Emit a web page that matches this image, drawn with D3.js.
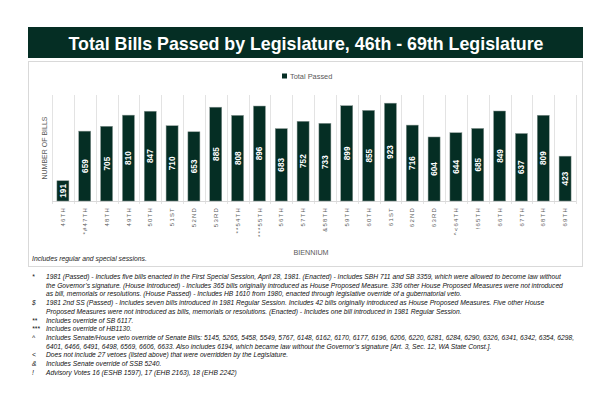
<!DOCTYPE html>
<html>
<head>
<meta charset="utf-8">
<title>Total Bills Passed</title>
<style>
  body { margin: 0; background: #fff; }
  svg { display: block; }
  text { font-family: "Liberation Sans", Arial, sans-serif; }
</style>
</head>
<body>
<div id="chart"></div>
<script src="https://d3js.org/d3.v7.min.js"></script>
<script>

// data
var bienniums = ["46TH", "*#47TH", "48TH", "49TH", "50TH", "51ST", "52ND", "53RD",
                 "**54TH", "***55TH", "56TH", "57TH", "&58TH", "59TH", "60TH", "61ST",
                 "62ND", "63RD", "^<64TH", "!65TH", "66TH", "67TH", "68TH", "69TH"];
var totalPassed = [191, 659, 705, 810, 847, 710, 653, 885, 808, 896, 683, 752,
                   733, 899, 855, 923, 716, 604, 644, 685, 849, 637, 809, 423];

var footSymbols = ["*", "$", "**", "***", "^", "<", "&", "!"];
var footLines = [
    ["1981 (Passed) - Includes five bills enacted in the First Special Session, April 28, 1981. (Enacted) - Includes SBH 711 and SB 3359, which were allowed to become law without",
     "the Governor\u2019s signature. (House Introduced) - Includes 365 bills originally introduced as House Proposed Measure. 336 other House Proposed Measures were not introduced",
     "as bill, memorials or resolutions. (House Passed)  - Includes HB 1610 from 1980, enacted through legislative override of a gubernatorial veto."],
    ["1981 2nd SS (Passed) - Includes seven bills introduced in 1981 Regular Session. Includes 42 bills originally introduced as House Proposed Measures. Five other House",
     "Proposed Measures were not introduced as bills, memorials or resolutions. (Enacted) - Includes one bill introduced in 1981 Regular Session."],
    ["Includes override of SB 6117."],
    ["Includes override of HB1130."],
    ["Includes Senate/House veto override of Senate Bills: 5145, 5265, 5458, 5549, 5767, 6148, 6162, 6170, 6177, 6196, 6206, 6220, 6281, 6284, 6290, 6326, 6341, 6342, 6354, 6298,",
     "6401, 6466, 6491, 6498, 6569, 6606, 6633. Also includes 6194, which became law without the Governor\u2019s signature [Art. 3, Sec. 12, WA State Const.]."],
    ["Does not include 27 vetoes (listed above) that were overridden by the Legislature."],
    ["Includes Senate override of SSB 5240."],
    ["Advisory Votes 16 (ESHB 1597), 17 (EHB 2163), 18 (EHB 2242)"]
];

var W = 612, H = 396;
var green = "#052e24";

var svg = d3.select("#chart").append("svg")
    .attr("width", W)
    .attr("height", H);

// title banner
svg.append("rect")
    .attr("x", 28).attr("y", 27)
    .attr("width", 555).attr("height", 31)
    .attr("fill", green);
svg.append("text")
    .attr("x", 306).attr("y", 49.5)
    .attr("text-anchor", "middle")
    .attr("fill", "#fff")
    .attr("font-weight", "bold")
    .attr("font-size", 17.8)
    .text("Total Bills Passed by Legislature, 46th - 69th Legislature");

// chart frame
svg.append("rect")
    .attr("x", 28.5).attr("y", 61.5)
    .attr("width", 554).attr("height", 205)
    .attr("fill", "none")
    .attr("stroke", "#d9d9d9");

var x = d3.scaleBand()
    .domain(bienniums)
    .range([52, 576])
    .paddingInner(0.45)
    .paddingOuter(0.225);

var y = d3.scaleLinear()
    .domain([0, 1000])
    .range([201, 95]);

// vertical grid at category boundaries
var step = x.step();
var bounds = d3.range(bienniums.length + 1).map(function(i) { return 52 + i * step; });
svg.append("g").selectAll("line")
    .data(bounds)
    .enter().append("line")
    .attr("x1", function(d) { return Math.round(d) + 0.5; })
    .attr("x2", function(d) { return Math.round(d) + 0.5; })
    .attr("y1", y(1000))
    .attr("y2", y(0) + 3)
    .attr("stroke", "#e3e3e3")
    .attr("stroke-width", 1);

// baseline
svg.append("line")
    .attr("x1", 52).attr("x2", 576)
    .attr("y1", y(0) + 0.5).attr("y2", y(0) + 0.5)
    .attr("stroke", "#d9d9d9");

// bars
svg.append("g").selectAll("rect")
    .data(totalPassed)
    .enter().append("rect")
    .attr("x", function(d, i) { return x(bienniums[i]); })
    .attr("y", function(d) { return y(d); })
    .attr("width", x.bandwidth())
    .attr("height", function(d) { return y(0) - y(d); })
    .attr("fill", green)
    .attr("stroke", "#8c9a96")
    .attr("stroke-width", 0.5);

// value labels, rotated, centred in bar
svg.append("g").selectAll("text")
    .data(totalPassed)
    .enter().append("text")
    .attr("transform", function(d, i) {
        var cx = x(bienniums[i]) + x.bandwidth() / 2;
        var cy = (y(d) + y(0)) / 2;
        return "translate(" + cx + "," + cy + ") rotate(-90)";
    })
    .attr("dy", "0.36em")
    .attr("text-anchor", "middle")
    .attr("fill", "#fff")
    .attr("font-weight", "bold")
    .attr("font-size", 8.2)
    .text(function(d) { return d; });

// x tick labels (rotated, letter spaced)
var xAxis = svg.append("g")
    .attr("transform", "translate(0," + 207 + ")")
    .call(d3.axisBottom(x).tickSize(0).tickPadding(0));
xAxis.select(".domain").remove();
xAxis.selectAll("text")
    .attr("transform", "rotate(-90)")
    .attr("x", 0)
    .attr("y", 0)
    .attr("dy", "0.35em")
    .attr("text-anchor", "end")
    .attr("fill", "#595959")
    .attr("font-family", "'Liberation Sans', Arial, sans-serif")
    .attr("font-size", 6)
    .attr("letter-spacing", 1.2);

// axis titles
svg.append("text")
    .attr("transform", "translate(47,148) rotate(-90)")
    .attr("text-anchor", "middle")
    .attr("fill", "#595959")
    .attr("font-size", 7)
    .text("NUMBER OF BILLS");

svg.append("text")
    .attr("x", 311).attr("y", 255)
    .attr("text-anchor", "middle")
    .attr("fill", "#595959")
    .attr("font-size", 7.2)
    .text("BIENNIUM");

// legend
svg.append("rect")
    .attr("x", 282).attr("y", 73.5)
    .attr("width", 5).attr("height", 5)
    .attr("fill", green);
svg.append("text")
    .attr("x", 290).attr("y", 78.5)
    .attr("fill", "#595959")
    .attr("font-size", 7.4)
    .text("Total Passed");

// note inside the frame
svg.append("text")
    .attr("x", 32).attr("y", 261)
    .attr("fill", "#222")
    .attr("font-style", "italic")
    .attr("font-size", 6.8)
    .text("Includes regular and special sessions.");

// footnotes
var lineH = 8.7;
var yy = 279;
var foot = svg.append("g")
    .attr("fill", "#111")
    .attr("font-style", "italic")
    .attr("font-size", 6.7);
footSymbols.forEach(function(sym, i) {
    foot.append("text")
        .attr("x", 32).attr("y", yy)
        .text(sym);
    footLines[i].forEach(function(line, j) {
        foot.append("text")
            .attr("x", 46).attr("y", yy + j * lineH)
            .text(line);
    });
    yy += footLines[i].length * lineH;
});

</script>
</body>
</html>
